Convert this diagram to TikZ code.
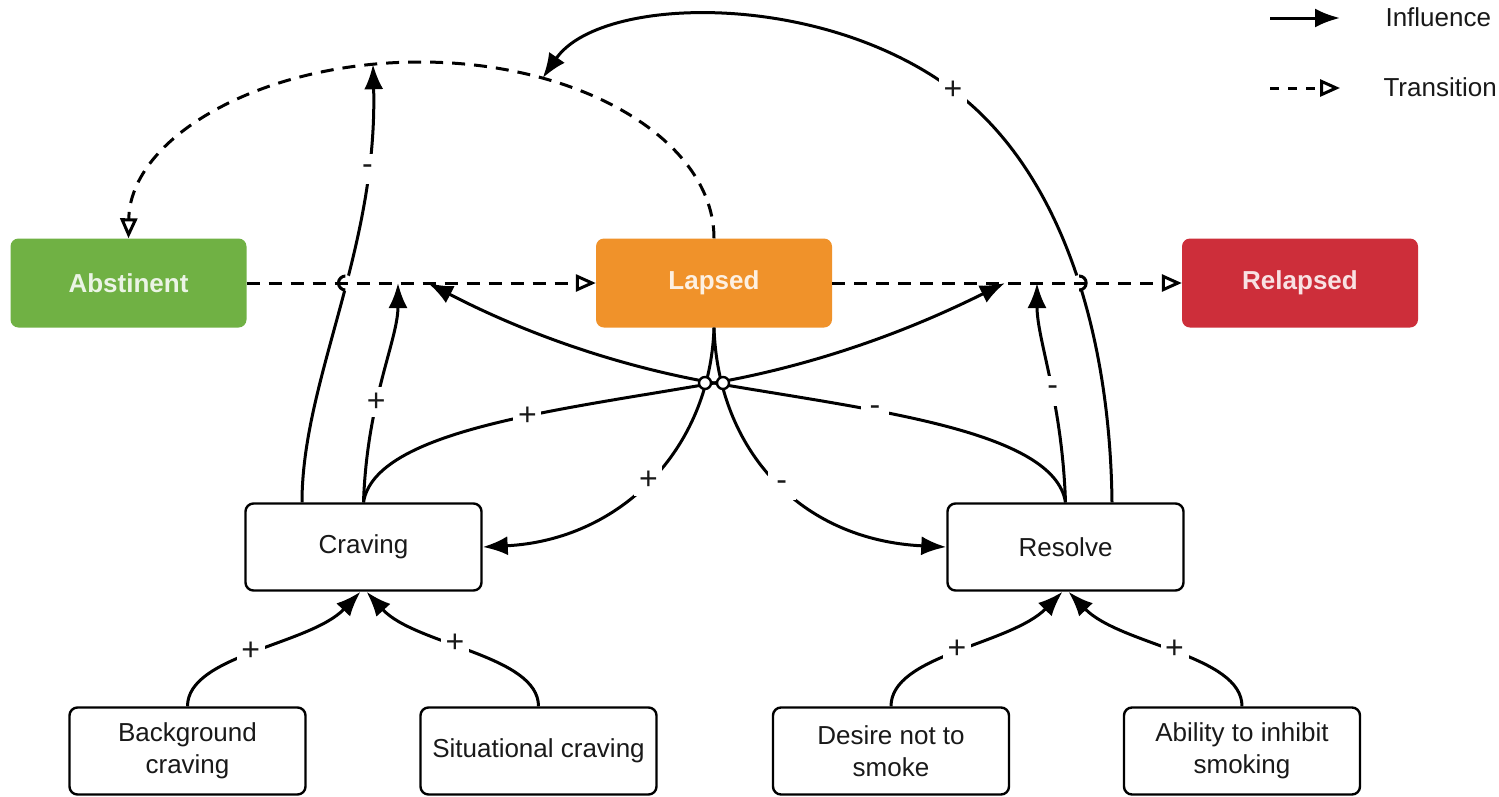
\documentclass[tikz,border=0pt]{standalone}
\usepackage{fontspec}
\setmainfont{Liberation Sans}
\usetikzlibrary{arrows.meta,intersections}

\definecolor{absgreen}{RGB}{112,177,68}
\definecolor{lapseorange}{RGB}{240,146,42}
\definecolor{relapsered}{RGB}{205,46,58}
\definecolor{inktext}{RGB}{25,25,25}

\begin{document}
\begin{tikzpicture}[x=1pt,y=-1pt,
  every node/.style={font=\fontsize{26}{32}\selectfont, text=inktext},
  statebox/.style={rounded corners=8pt, minimum width=236pt, minimum height=89pt,
    inner sep=0pt, font=\fontsize{26}{32}\selectfont\bfseries},
  factorbox/.style={draw=black, line width=2.4pt, rounded corners=8pt, fill=white,
    minimum width=236pt, minimum height=87pt, align=center, inner sep=0pt},
  influence/.style={line width=3pt, -{Latex[length=25pt,width=19pt]}},
  transition/.style={line width=3pt, dash pattern=on 13pt off 9pt,
    -{Triangle[open,length=20pt,width=17pt,line width=3pt]}},
  sign/.style={fill=white, inner sep=0pt, minimum width=28pt, minimum height=30pt,
    font=\fontsize{32}{32}\selectfont},
]
\useasboundingbox[fill=white] (0,0) rectangle (1499,796);

% states
\node[statebox, fill=absgreen, text=white!86!absgreen] (abst) at (128.5,283) {Abstinent};
\node[statebox, fill=lapseorange, text=white!86!lapseorange] (lapsed) at (714,283) {Lapsed};
\node[statebox, fill=relapsered, text=white!86!relapsered] (relapsed) at (1300,283) {Relapsed};

% factors
\node[factorbox] (craving) at (363.5,547) {Craving};
\node[factorbox] (resolve) at (1065.5,547) {Resolve};
\node[factorbox] (bg) at (187.5,751) {Background\\craving};
\node[factorbox] (sit) at (538.5,751) {Situational craving};
\node[factorbox] (desire) at (891,751) {Desire not to\\smoke};
\node[factorbox] (ability) at (1242,751) {Ability to inhibit\\smoking};

% points on the transitions that influences point at
\coordinate (hub) at (714,383);
\coordinate (ta1) at (398,283);
\coordinate (ta2) at (428,283);
\coordinate (tb1) at (1005,283);
\coordinate (tb2) at (1037,283);

% transition paths (named for line hops)
\path[name path=trA] (abst.east) -- (lapsed.west);
\path[name path=trB] (lapsed.east) -- (relapsed.west);
\path (lapsed.north) .. controls (714,141) and (582,62) .. (420,62)
  coordinate[pos=0.73] (arcR)
  .. controls (260,62) and (130,138) .. (abst.north)
  coordinate[pos=0.1] (arcL);

% influences from Craving
\draw[influence, name path=cm] ([xshift=-61.5pt]craving.north)
  .. controls (302,380) and (378,250) .. (arcL) node[sign, pos=0.8] {-};
\draw[influence] (craving.north) .. controls (367,400) and (398,340) .. (ta1)
  node[sign, pos=0.38] {+};
\draw[influence] (craving.north) .. controls (375,430) and (560,410) .. (hub)
  node[sign, pos=0.6] {+}
  .. controls (850,359) and (950,310) .. (tb1);

% influences from Resolve
\draw[influence, name path=rp] ([xshift=46.5pt]resolve.north)
  .. controls (1110,330) and (1060,170) .. (953,90) node[sign] {+}
  .. controls (820,-10) and (600,-5) .. (arcR);
\draw[influence] (resolve.north) .. controls (1062,400) and (1037,340) .. (tb2)
  node[sign, pos=0.43] {-};
\draw[influence] (resolve.north) .. controls (1054,430) and (870,410) .. (hub)
  node[sign, pos=0.66] {-}
  .. controls (578,359) and (480,310) .. (ta2);

% influences from Lapsed
\draw[influence] (lapsed.south) .. controls (710,450) and (620,540) .. (craving.east)
  node[sign, pos=0.5] {+};
\draw[influence] (lapsed.south) .. controls (718,450) and (800,540) .. (resolve.west)
  node[sign, pos=0.52] {-};

% line jumps around the crossing below Lapsed
\draw[line width=2.4pt, fill=white] (705,383) circle (6pt);
\draw[line width=2.4pt, fill=white] (723,383) circle (6pt);

% influences into Craving and Resolve
\draw[influence] (bg.north) .. controls (187.5,655) and (310,645) .. ([xshift=-3pt]craving.south)
  node[sign, pos=0.48] {+};
\draw[influence] (sit.north) .. controls (538.5,655) and (415,645) .. ([xshift=3pt]craving.south)
  node[sign, pos=0.57] {+};
\draw[influence] (desire.north) .. controls (891,655) and (1010,645) .. ([xshift=-3pt]resolve.south)
  node[sign, pos=0.5] {+};
\draw[influence] (ability.north) .. controls (1242,655) and (1120,645) .. ([xshift=3pt]resolve.south)
  node[sign, pos=0.5] {+};

% line hops where long influences cross the transitions
\path[name intersections={of=cm and trA, by=hopA}];
\path[name intersections={of=rp and trB, by=hopB}];
\fill[white] (hopA) circle (8pt);
\fill[white] (hopB) circle (8pt);
\begin{scope}
  \clip ([xshift=-11pt,yshift=-11pt]hopA) rectangle ([yshift=11pt]hopA);
  \draw[line width=3pt] (hopA) circle (7pt);
\end{scope}
\begin{scope}
  \clip ([xshift=11pt,yshift=-11pt]hopB) rectangle ([yshift=11pt]hopB);
  \draw[line width=3pt] (hopB) circle (7pt);
\end{scope}

% transitions
\draw[transition] (abst.east) -- (lapsed.west);
\draw[transition] (lapsed.east) -- (relapsed.west);
\draw[transition] (lapsed.north) .. controls (714,141) and (582,62) .. (420,62)
  .. controls (260,62) and (130,138) .. (abst.north);

% legend
\coordinate (lgA1) at (1270,18);
\coordinate (lgA2) at (1340,18);
\coordinate (lgB1) at (1270,88);
\coordinate (lgB2) at (1340,88);
\draw[influence] (lgA1) -- (lgA2);
\draw[transition, dash pattern=on 9pt off 9pt] (lgB1) -- (lgB2);
\node[anchor=west] (lgInf) at (1382,17) {Influence};
\node[anchor=west] (lgTr) at (1380,87) {Transition};
\end{tikzpicture}
\end{document}
